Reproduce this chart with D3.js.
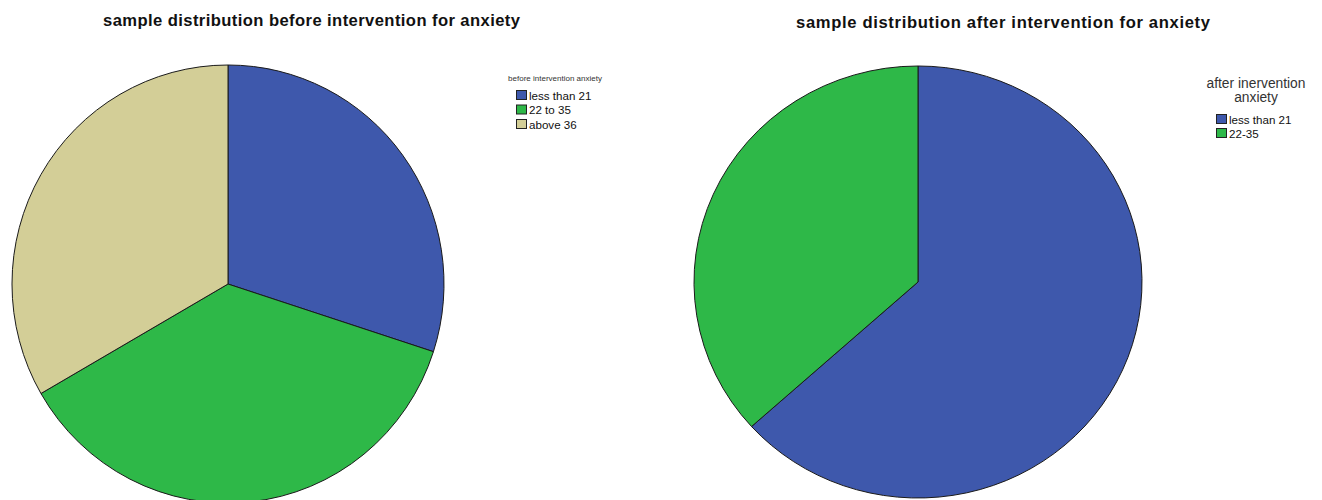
<!DOCTYPE html>
<html>
<head>
<meta charset="utf-8">
<script src="https://cdn.jsdelivr.net/npm/d3@7"></script>
<style>
  html, body { margin: 0; padding: 0; background: #fff; }
  svg { display: block; font-family: "Liberation Sans", Arial, sans-serif; }
</style>
</head>
<body>
<svg id="chart" width="1322" height="500"></svg>
<script>
// Anxiety score groups, counts of participants
const beforeCategories = ["less than 21", "22 to 35", "above 36"];
const beforeCounts = [9, 11, 10];
const afterCategories = ["less than 21", "22-35"];
const afterCounts = [19, 11];
const sliceColors = ["#3E58AC", "#2EB848", "#D3CE97"];

const svg = d3.select("#chart");

function drawPie(cfg) {
  const data = cfg.categories.map((c, i) => ({ label: c, value: cfg.values[i] }));
  const pie = d3.pie().value(d => d.value).sort(null);
  const arc = d3.arc().innerRadius(0).outerRadius(cfg.r);
  const color = d3.scaleOrdinal().domain(cfg.categories).range(sliceColors);

  svg.append("text")
    .attr("x", cfg.titleX).attr("y", cfg.titleY)
    .attr("font-size", 16.6).attr("font-weight", "bold").attr("fill", "#111")
    .attr("textLength", cfg.titleW).attr("lengthAdjust", "spacing")
    .text(cfg.title);

  const g = svg.append("g")
    .attr("transform", `translate(${cfg.cx},${cfg.cy}) scale(${cfg.sx},${cfg.sy})`);
  g.selectAll("path").data(pie(data)).join("path")
    .attr("d", arc)
    .attr("fill", d => color(d.data.label))
    .attr("stroke", "#1a1a1a")
    .attr("stroke-width", 1)
    .attr("vector-effect", "non-scaling-stroke")
    .attr("stroke-linejoin", "round");

  const lg = svg.append("g");
  cfg.legendTitle.forEach((t, i) => {
    lg.append("text")
      .attr("x", cfg.legendTitleX).attr("y", cfg.legendTitleY + i * cfg.legendTitleLine)
      .attr("text-anchor", "middle")
      .attr("font-size", cfg.legendTitleSize).attr("fill", "#333")
      .text(t);
  });
  const rows = lg.selectAll("g.row").data(data).join("g")
    .attr("class", "row")
    .attr("transform", (d, i) => `translate(${cfg.legendX},${cfg.legendY + i * cfg.legendStep})`);
  rows.append("rect")
    .attr("x", 0.5).attr("y", 0.5).attr("width", 10).attr("height", 9)
    .attr("fill", d => color(d.label))
    .attr("stroke", "#222").attr("stroke-width", 1);
  rows.append("text")
    .attr("x", 13).attr("y", 9.5)
    .attr("font-size", 11.6).attr("fill", "#111")
    .text(d => d.label);
}

drawPie({
  title: "sample distribution before intervention for anxiety",
  titleX: 103, titleY: 26, titleW: 417,
  categories: beforeCategories, values: beforeCounts,
  cx: 228, cy: 284, r: 217, sx: 216 / 217, sy: 219 / 217,
  legendTitle: ["before intervention anxiety"],
  legendTitleX: 555, legendTitleY: 80.5, legendTitleLine: 0, legendTitleSize: 8,
  legendX: 516, legendY: 90, legendStep: 14.5
});

drawPie({
  title: "sample distribution after intervention for anxiety",
  titleX: 796, titleY: 28, titleW: 414,
  categories: afterCategories, values: afterCounts,
  cx: 918, cy: 282, r: 216, sx: 224 / 216, sy: 1,
  legendTitle: ["after inervention", "anxiety"],
  legendTitleX: 1256, legendTitleY: 88, legendTitleLine: 14, legendTitleSize: 13.8,
  legendX: 1216, legendY: 114, legendStep: 14
});
</script>
</body>
</html>
